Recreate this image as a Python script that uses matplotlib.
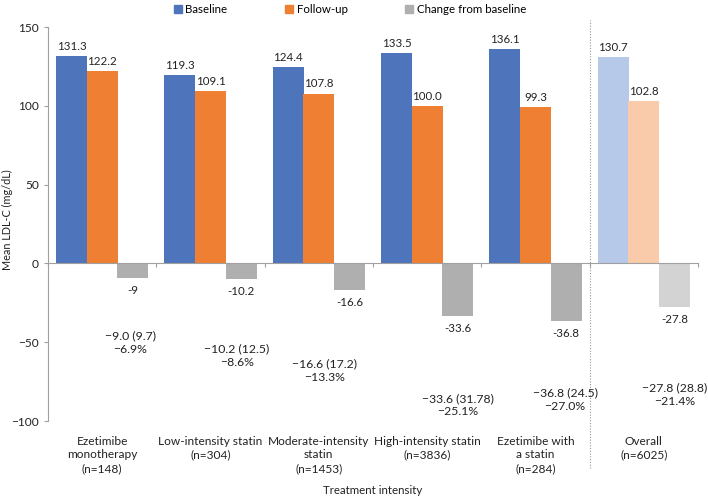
import matplotlib
matplotlib.use("Agg")
import matplotlib.pyplot as plt
import matplotlib.transforms as mtransforms
from matplotlib.patches import Patch
import numpy as np

plt.rcParams['font.family'] = ['Lato', 'DejaVu Sans']

# ---------------- data ----------------
categories = ["Ezetimibe\nmonotherapy\n(n=148)", "Low-intensity statin\n(n=304)",
              "Moderate-intensity\nstatin\n(n=1453)", "High-intensity statin\n(n=3836)",
              "Ezetimibe with\na statin\n(n=284)", "Overall\n(n=6025)"]
baseline = [131.3, 119.3, 124.4, 133.5, 136.1, 130.7]
followup = [122.2, 109.1, 107.8, 100.0, 99.3, 102.8]
change = [-9.0, -10.2, -16.6, -33.6, -36.8, -27.8]
baseline_labels = ["131.3", "119.3", "124.4", "133.5", "136.1", "130.7"]
followup_labels = ["122.2", "109.1", "107.8", "100.0", "99.3", "102.8"]
change_labels = ["-9", "-10.2", "-16.6", "-33.6", "-36.8", "-27.8"]
notes = ["\u22129.0 (9.7)\n\u22126.9%", "\u221210.2 (12.5)\n\u22128.6%",
         "\u221216.6 (17.2)\n\u221213.3%", "\u221233.6 (31.78)\n\u221225.1%",
         "\u221236.8 (24.5)\n\u221227.0%", "\u221227.8 (28.8)\n\u221221.4%"]
yticks = [-100, -50, 0, 50, 100, 150]

# ---------------- layout / style ----------------
note_dx = [0.257, 0.245, 0.05, 0.286, 0.274, 0.285]
note_y = [-50.4, -58.7, -68.2, -89.8, -86.6, -83.4]
c_base = ["#4E74BB"] * 5 + ["#B7C9E8"]
c_fol = ["#EE7F33"] * 5 + ["#F9CBAA"]
c_chg = ["#AFAFAF"] * 5 + ["#D3D3D3"]
fs = 8.3

fig = plt.figure(figsize=(7.08, 4.98), dpi=100)
ax = fig.add_axes([48/708, 1-421/498, 650/708, 394/498])

x = np.arange(len(categories))
w = 0.286
off = 0.283
b1 = ax.bar(x - off, baseline, w, color=c_base)
b2 = ax.bar(x, followup, w, color=c_fol)
b3 = ax.bar(x + off, change, w, color=c_chg)

for i in x:
    ax.annotate(baseline_labels[i], (x[i] - off, baseline[i]), xytext=(0, 3),
                textcoords="offset points", ha="center", va="bottom", fontsize=fs, color="#222222")
    ax.annotate(followup_labels[i], (x[i], followup[i]), xytext=(0, 3),
                textcoords="offset points", ha="center", va="bottom", fontsize=fs, color="#222222")
    ax.annotate(change_labels[i], (x[i] + off, change[i]), xytext=(0, -5),
                textcoords="offset points", ha="center", va="top", fontsize=fs, color="#222222")
    ax.text(x[i] + note_dx[i], note_y[i], notes[i], ha="center", va="center",
            fontsize=fs + 0.5, color="#222222", linespacing=1.25)

ax.set_xlim(-0.5, len(categories) - 0.5)
ax.set_ylim(-100, 150)
ax.set_yticks(yticks)
ax.tick_params(axis='y', labelsize=fs + 0.3, colors="#222222", length=3, color="#A0A0A0")
for s in ["top", "right"]:
    ax.spines[s].set_visible(False)
ax.spines['left'].set_color("#A0A0A0")
ax.spines['bottom'].set_position(('data', 0))
ax.spines['bottom'].set_color("#A0A0A0")
ax.set_xticks(np.arange(len(categories) + 1) - 0.5)
ax.set_xticklabels([])
ax.tick_params(axis='x', length=3, color="#A0A0A0", direction="out")

trans = mtransforms.blended_transform_factory(ax.transData, ax.transAxes)
for i, c in enumerate(categories):
    ax.text(i, -0.037, c, transform=trans, ha="center", va="top", fontsize=fs + 0.3,
            color="#222222", linespacing=1.3)

ax.plot([4.5, 4.5], [-0.12, 1.018], transform=trans, clip_on=False, color="#999999",
        linestyle=(0, (1, 1.5)), linewidth=0.8)

fig.text(7/708, 1-220/498, "Mean LDL-C (mg/dL)", rotation=90, ha="center", va="center",
         fontsize=fs - 0.5, color="#222222")
fig.text(373/708, 1-490/498, "Treatment intensity", ha="center", va="center",
         fontsize=fs, color="#222222")

handles = [Patch(color="#4E74BB"), Patch(color="#EE7F33"), Patch(color="#AFAFAF")]
fig.legend(handles, ["Baseline", "Follow-up", "Change from baseline"], ncol=3,
           loc="upper center", bbox_to_anchor=(350/708, 1.012), frameon=False,
           fontsize=fs, handlelength=0.7, handleheight=0.7, handletextpad=0.3,
           columnspacing=5.0)

fig.savefig("out.png", dpi=100)
